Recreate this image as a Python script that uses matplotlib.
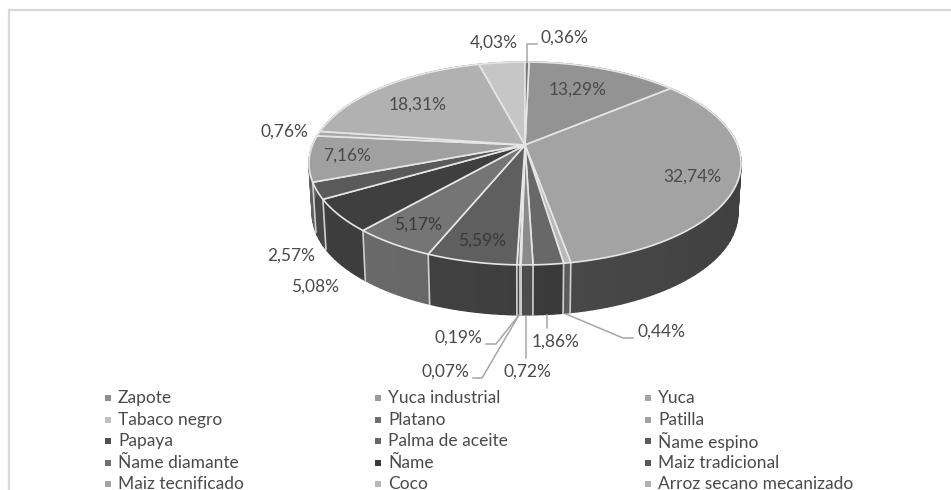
import numpy as np
import matplotlib
matplotlib.use("Agg")
import matplotlib.pyplot as plt
from matplotlib.patches import Polygon, Rectangle
from matplotlib.colors import to_rgb

plt.rcParams['font.family'] = ['Lato', 'DejaVu Sans']

# slices clockwise from the top of the pie
slice_labels = ['13,29%', '32,74%', '0,44%', '1,86%', '0,72%', '0,07%', '0,19%', '5,59%',
                '5,17%', '5,08%', '2,57%', '7,16%', '0,76%', '18,31%', '4,03%', '0,36%']
slice_values = [13.29, 32.74, 0.44, 1.86, 0.72, 0.07, 0.19, 5.59,
                5.17, 5.08, 2.57, 7.16, 0.76, 18.31, 4.03, 0.36]
top_colors = ['#939393', '#a3a3a3', '#b8b8b8', '#686868', '#8a8a8a', '#9a9a9a', '#808080', '#5f5f5f',
              '#757575', '#3f3f3f', '#5a5a5a', '#a0a0a0', '#a9a9a9', '#b1b1b1', '#c6c6c6', '#7a7a7a']
wall_colors = ['#555555', '#474747', '#5a5a5a', '#393939', '#4a4a4a', '#555555', '#4a4a4a', '#3c3c3c',
               '#606060', '#383838', '#404040', '#555555', '#555555', '#555555', '#555555', '#444444']

legend_names = ['Zapote', 'Yuca industrial', 'Yuca',
                'Tabaco negro', 'Platano', 'Patilla',
                'Papaya', 'Palma de aceite', 'Ñame espino',
                'Ñame diamante', 'Ñame', 'Maiz tradicional',
                'Maiz tecnificado', 'Coco', 'Arroz secano mecanizado']
legend_colors = ['#8f8f8f', '#9a9a9a', '#a6a6a6',
                 '#c0c0c0', '#6e6e6e', '#a0a0a0',
                 '#4f4f4f', '#666666', '#5a5a5a',
                 '#707070', '#3a3a3a', '#555555',
                 '#a4a4a4', '#b8b8b8', '#b0b0b0']

# pie projection, in image pixels
CX, CY = 525, 145
KX, KY, PERSP = 212.4, 98.1, 0.182
DEPTH = 50
START_DEG = 1.3


def project(theta, r=1.0):
    # theta clockwise from the top, radians
    u, v = r * np.sin(theta), r * np.cos(theta)
    w = 1 + PERSP * v
    return CX + KX * u / w, CY - KY * v / w


def project_bottom(theta):
    x, y = project(theta)
    return CX + (x - CX) * 0.985, y + DEPTH


fig = plt.figure(figsize=(9.51, 4.90), dpi=100)
ax = fig.add_axes([0, 0, 1, 1])
ax.set_xlim(0, 951)
ax.set_ylim(490, 0)
ax.axis('off')

# chart frame: only top and left show in the crop
ax.plot([8.5, 8.5, 951], [490, 10.5, 10.5], color='#d9d9d9', lw=1.6, zorder=1)

vals = np.array(slice_values)
edges = np.deg2rad(START_DEG + np.concatenate([[0], np.cumsum(vals)]) / vals.sum() * 360)

# side wall, shaded strip by strip
for i in range(len(vals)):
    n = max(int((edges[i + 1] - edges[i]) / 0.03), 1)
    th = np.linspace(edges[i], edges[i + 1], n + 1)
    base = np.array(to_rgb(wall_colors[i]))
    for a, b in zip(th[:-1], th[1:]):
        aa = np.linspace(a, b, 6)
        xt, yt = project(aa)
        xb, yb = project_bottom(aa)
        pts = list(zip(xt, yt)) + list(zip(xb[::-1], yb[::-1]))
        shade = 1 + 0.12 * np.sin(a - np.pi * 0.9)
        col = np.clip(base * shade, 0, 1)
        ax.add_patch(Polygon(pts, closed=True, fc=col, ec=col, lw=1.0, zorder=2))

# separators on the wall, front half only
for e in edges:
    if np.cos(e) < -0.1:
        x0, y0 = project(e)
        x1, y1 = project_bottom(e)
        ax.plot([x0, x1], [y0, y1], color='#d0d0d0', lw=1.2, zorder=3)

# top faces
for i in range(len(vals)):
    th = np.linspace(edges[i], edges[i + 1], max(int((edges[i + 1] - edges[i]) / 0.01), 2))
    xs, ys = project(th)
    pts = [(CX, CY)] + list(zip(xs, ys))
    ax.add_patch(Polygon(pts, closed=True, fc=top_colors[i], ec='#e6e6e6', lw=1.2,
                         joinstyle='round', zorder=4))

# data labels (text centre in pixels)
label_pos = {
    '13,29%': (578, 90), '32,74%': (692, 177), '0,44%': (661, 332), '1,86%': (556, 342),
    '0,72%': (527, 372), '0,07%': (445, 372), '0,19%': (458, 338), '5,59%': (482, 241),
    '5,17%': (418, 225), '5,08%': (315, 287), '2,57%': (291, 256), '7,16%': (347, 156),
    '0,76%': (284, 132), '18,31%': (418, 105), '4,03%': (494, 43), '0,36%': (564, 38),
}
dark_inside = ['5,59%', '5,17%']
for lab in slice_labels:
    x, y = label_pos[lab]
    ax.text(x, y, lab, ha='center', va='center', fontsize=12.5,
            color='#3a3a3a' if lab in dark_inside else '#4a4a4a', zorder=6)

# leader lines
leaders = [
    ([633, 623, 566], [338, 338, 314]),
    ([547, 547], [315, 328]),
    ([526, 526], [316, 358]),
    ([486, 496, 519], [344, 344, 315]),
    ([473, 482, 519], [378, 378, 315]),
    ([537, 527, 527], [44, 44, 62]),
]
for xs, ys in leaders:
    ax.plot(xs, ys, color='#a6a6a6', lw=1.1, zorder=5)

# legend, last row is cut by the image edge
col_x = [105, 375, 645]
row_y = [398, 420, 441, 463, 484]
for i, name in enumerate(legend_names):
    r, c = divmod(i, 3)
    ax.add_patch(Rectangle((col_x[c], row_y[r] - 3), 6, 6, fc=legend_colors[i], ec='none', zorder=6))
    ax.text(col_x[c] + 13, row_y[r], name, ha='left', va='center', fontsize=12.5,
            color='#4a4a4a', zorder=6, clip_on=True)

fig.savefig('out.png', dpi=100)
